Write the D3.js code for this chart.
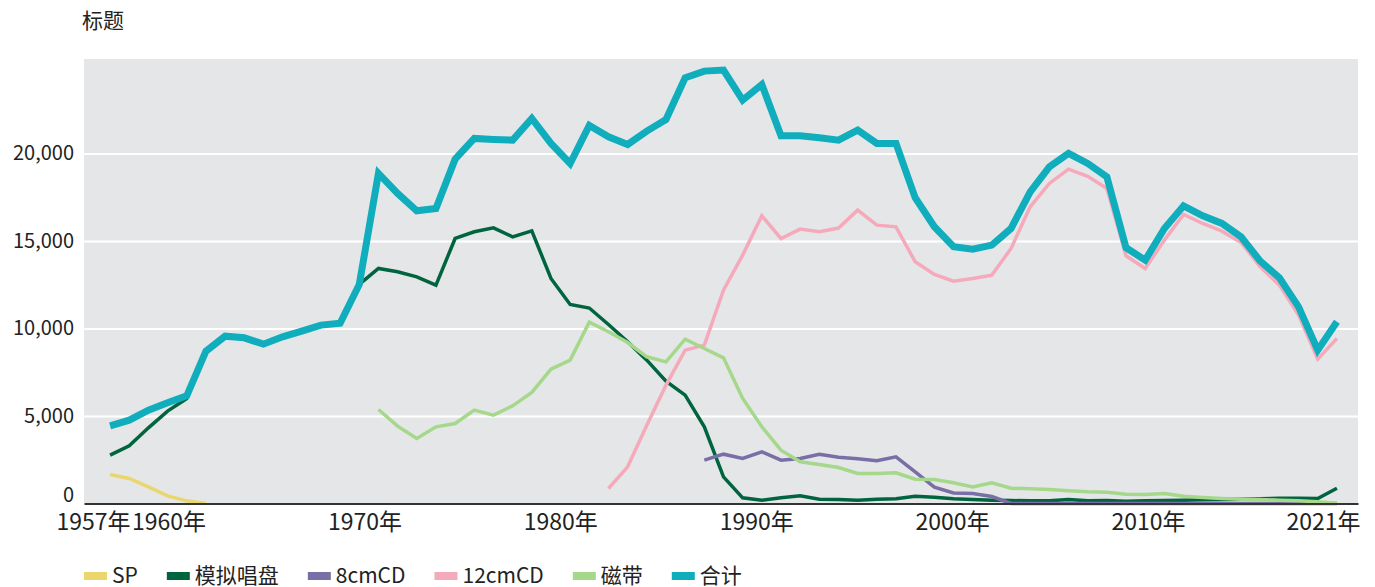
<!DOCTYPE html>
<html>
<head>
<meta charset="utf-8">
<script src="https://cdn.jsdelivr.net/npm/d3@7"></script>
<style>
  body { margin: 0; background: #fff; }
  text { font-family: "Noto Sans CJK SC", "Noto Sans", sans-serif; fill: #222; }
</style>
</head>
<body>
<div id="chart"></div>
<script>
// Years on the x axis
const years = d3.range(1957, 2022);

// Series values (titles per year), null where the format did not exist
const sp = [1657, 1429, 952, 438, 152, 0];
const records = [2762, 3296, 4324, 5277, 6000, 8706, 9563, 9468, 9106, 9525,
  9849, 10192, 10300, 12516, 13430, 13240, 12954, 12478, 15145, 15526,
  15754, 15240, 15583, 12859, 11373, 11170, 10230, 9239, 8192, 6991,
  6191, 4382, 1524, 324, 190, 324, 438, 248, 229, 190,
  248, 267, 419, 362, 267, 229, 190, 171, 152, 152,
  229, 152, 171, 133, 152, 171, 190, 210, 229, 248,
  267, 305, 305, 286, 870];
const cd8 = [2477, 2819, 2572, 2953, 2477, 2572, 2819, 2640, 2560, 2438,
  2667, 1810, 930, 600, 570, 400, 0, 0, 0, 0,
  0, 0, 0, 0, 0, 0, 0, 0, 0, 0,
  0, 0, 0, 0];
const cd12 = [857, 2096, 4477, 6763, 8763, 9049, 12192, 14192, 16440, 15145,
  15678, 15526, 15740, 16764, 15907, 15812, 13811, 13087, 12706, 12859,
  13049, 14573, 16955, 18288, 19107, 18700, 18002, 14154, 13430, 15050,
  16516, 16002, 15564, 14916, 13525, 12478, 10763, 8249, 9430];
const tape = [5372, 4420, 3715, 4382, 4572, 5334, 5048, 5582, 6344, 7677,
  8192, 10363, 9811, 9201, 8382, 8096, 9392, 8858, 8325, 6001,
  4382, 3048, 2381, 2229, 2057, 1714, 1714, 1752, 1390, 1371,
  1181, 952, 1181, 876, 838, 800, 724, 667, 648, 533,
  514, 571, 419, 343, 286, 248, 229, 190, 152, 95, 10];
const total = [4439, 4762, 5334, 5753, 6153, 8706, 9563, 9468, 9106, 9525,
  9849, 10192, 10300, 12516, 18860, 17717, 16726, 16859, 19679, 20860,
  20803, 20765, 22003, 20574, 19431, 21600, 20955, 20517, 21279, 21946,
  24327, 24708, 24765, 23051, 23946, 21012, 21012, 20898, 20765, 21336,
  20574, 20574, 17469, 15812, 14669, 14535, 14764, 15716, 17812, 19241,
  20003, 19431, 18669, 14611, 13906, 15716, 17011, 16440, 16002, 15240,
  13849, 12897, 11239, 8763, 10382];

// First year of each series
const seriesNames = ["SP", "模拟唱盘", "8cmCD", "12cmCD", "磁带", "合计"];
const seriesStart = [1957, 1957, 1988, 1983, 1971, 1957];
const seriesValues = [sp, records, cd8, cd12, tape, total];
const seriesColors = ["#e9d66d", "#00653f", "#7a6ea6", "#f4aabb", "#a5d88b", "#10adbc"];
const seriesWidths = [3.5, 3.5, 3.5, 3.5, 3.5, 7];

const yTicks = [0, 5000, 10000, 15000, 20000];
const xTicks = [1957, 1960, 1970, 1980, 1990, 2000, 2010, 2021];

const margin = {top: 59, right: 17, bottom: 83.5, left: 84},
    width = 1375 - margin.left - margin.right,
    height = 587 - margin.top - margin.bottom;

const svg = d3.select("#chart")
    .append("svg")
    .attr("width", 1375)
    .attr("height", 587);

// Title
svg.append("text")
    .attr("x", 82)
    .attr("y", 28)
    .style("font-size", "21px")
    .text("标题");

const g = svg.append("g")
    .attr("transform", "translate(" + margin.left + "," + margin.top + ")");

// Plot background
g.append("rect")
    .attr("width", width)
    .attr("height", height)
    .attr("fill", "#e5e6e8");

const xScale = d3.scaleLinear()
    .domain([1955.64, 2022.1])
    .range([0, width]);

// tick labels sit on a slightly wider spacing than the data points
const labelScale = d3.scaleLinear()
    .domain([1960, 2010])
    .range([84.5, 1064]);

const yScale = d3.scaleLinear()
    .domain([0, 25400])
    .range([height, 0]);

// y axis with white gridlines
const yAxis = g.append("g")
    .call(d3.axisLeft(yScale)
        .tickValues(yTicks)
        .tickSize(-width)
        .tickPadding(10)
        .tickFormat(d3.format(",")));
yAxis.select(".domain").remove();
yAxis.selectAll(".tick line")
    .attr("stroke", "#fff")
    .attr("stroke-width", 2);
yAxis.selectAll(".tick text")
    .style("font-size", "20px")
    .attr("fill", "#222")
    .attr("font-family", null);
yAxis.selectAll(".tick")
    .filter(d => d === 0)
    .select("text")
    .attr("dy", "-0.1em");

// Lines
const line = d3.line()
    .defined(d => d.v != null)
    .x(d => xScale(d.year))
    .y(d => yScale(d.v));

seriesValues.forEach((vals, i) => {
    const pts = vals.map((v, j) => ({year: seriesStart[i] + j, v: v}));
    g.append("path")
        .datum(pts)
        .attr("fill", "none")
        .attr("stroke", seriesColors[i])
        .attr("stroke-width", seriesWidths[i])
        .attr("d", line);
});

// x axis
const xAxis = g.append("g")
    .attr("transform", "translate(0," + height + ")")
    .call(d3.axisBottom(xScale)
        .tickValues(xTicks)
        .tickSize(0)
        .tickSizeOuter(0)
        .tickPadding(10)
        .tickFormat(d => d + "年"));
xAxis.select(".domain")
    .attr("stroke", "#333")
    .attr("stroke-width", 2);
xAxis.selectAll(".tick text")
    .style("font-size", "23px")
    .attr("fill", "#222")
    .attr("font-family", null)
    .attr("dx", d => labelScale(d) - xScale(d));
// first and last labels are pushed inward so they do not collide
xAxis.selectAll(".tick")
    .filter(d => d === 1957)
    .select("text")
    .attr("text-anchor", "end")
    .attr("dx", 20);
xAxis.selectAll(".tick")
    .filter(d => d === 2021)
    .select("text")
    .attr("text-anchor", "end")
    .attr("dx", width + 2 - xScale(2021));

// Legend
let lx = 84;
seriesNames.forEach((name, i) => {
    svg.append("rect")
        .attr("x", lx)
        .attr("y", 572)
        .attr("width", 23)
        .attr("height", 8)
        .attr("fill", seriesColors[i]);
    const t = svg.append("text")
        .attr("x", lx + 28)
        .attr("y", 583)
        .style("font-size", "21px")
        .text(name);
    lx = lx + 28 + t.node().getComputedTextLength() + 29;
});
</script>
</body>
</html>
